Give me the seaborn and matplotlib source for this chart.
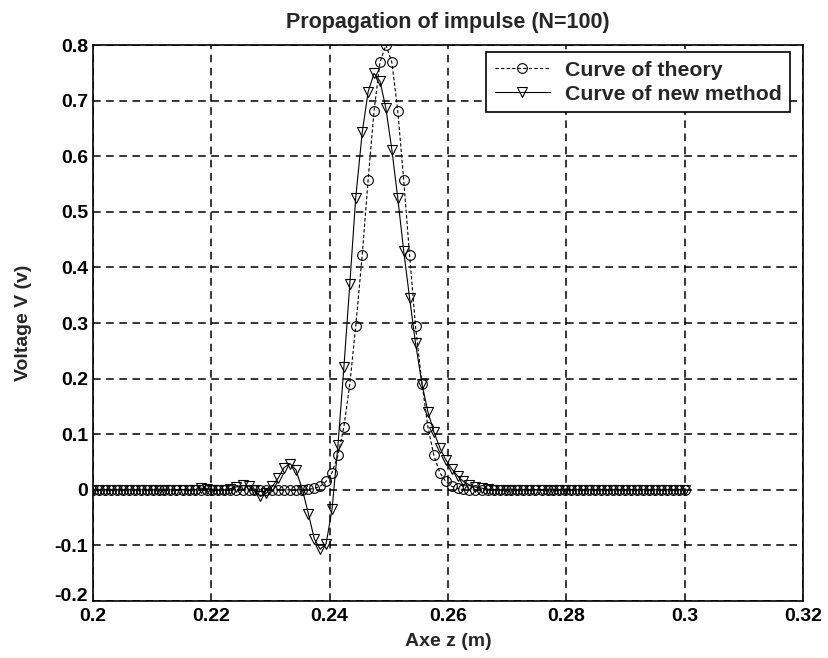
import matplotlib
matplotlib.use("Agg")
import matplotlib.pyplot as plt
import matplotlib.transforms as mtransforms
import seaborn as sns
import pandas as pd

# ---- data ----
z_axis = [0.2000, 0.2010, 0.2020, 0.2030, 0.2040, 0.2051, 0.2061, 0.2071, 0.2081, 0.2091,
          0.2101, 0.2111, 0.2121, 0.2131, 0.2141, 0.2152, 0.2162, 0.2172, 0.2182, 0.2192,
          0.2202, 0.2212, 0.2222, 0.2232, 0.2242, 0.2253, 0.2263, 0.2273, 0.2283, 0.2293,
          0.2303, 0.2313, 0.2323, 0.2333, 0.2343, 0.2354, 0.2364, 0.2374, 0.2384, 0.2394,
          0.2404, 0.2414, 0.2424, 0.2434, 0.2444, 0.2455, 0.2465, 0.2475, 0.2485, 0.2495,
          0.2505, 0.2515, 0.2525, 0.2535, 0.2545, 0.2556, 0.2566, 0.2576, 0.2586, 0.2596,
          0.2606, 0.2616, 0.2626, 0.2636, 0.2646, 0.2657, 0.2667, 0.2677, 0.2687, 0.2697,
          0.2707, 0.2717, 0.2727, 0.2737, 0.2747, 0.2758, 0.2768, 0.2778, 0.2788, 0.2798,
          0.2808, 0.2818, 0.2828, 0.2838, 0.2848, 0.2859, 0.2869, 0.2879, 0.2889, 0.2899,
          0.2909, 0.2919, 0.2929, 0.2939, 0.2949, 0.2960, 0.2970, 0.2980, 0.2990, 0.3000]

v_theory = [0.0, 0.0, 0.0, 0.0, 0.0, 0.0, 0.0, 0.0, 0.0, 0.0,
            0.0, 0.0, 0.0, 0.0, 0.0, 0.0, 0.0, 0.0, 0.0, 0.0,
            0.0, 0.0, 0.0, 0.0, 0.0, 0.0, 0.0, 0.0, 0.0, 0.0,
            0.0, 0.0, 0.0, 0.0, 0.0, 0.0003, 0.0009, 0.0025, 0.0064, 0.015,
            0.031, 0.062, 0.113, 0.190, 0.294, 0.422, 0.558, 0.682, 0.769, 0.800,
            0.769, 0.682, 0.558, 0.422, 0.294, 0.190, 0.113, 0.062, 0.031, 0.015,
            0.0064, 0.0025, 0.0009, 0.0003, 0.0, 0.0, 0.0, 0.0, 0.0, 0.0,
            0.0, 0.0, 0.0, 0.0, 0.0, 0.0, 0.0, 0.0, 0.0, 0.0,
            0.0, 0.0, 0.0, 0.0, 0.0, 0.0, 0.0, 0.0, 0.0, 0.0,
            0.0, 0.0, 0.0, 0.0, 0.0, 0.0, 0.0, 0.0, 0.0, 0.0]

v_new = [0.0, 0.0, 0.0, 0.0, 0.0, 0.0, 0.0, 0.0, 0.0, 0.0,
         0.0, 0.0, 0.0, 0.0, 0.0, 0.0, 0.0, 0.0, 0.003, 0.002,
         0.0, 0.0, 0.0, 0.002, 0.005, 0.008, 0.007, 0.0, -0.012, -0.006,
         0.006, 0.021, 0.040, 0.047, 0.036, 0.0, -0.043, -0.088, -0.107, -0.097,
         -0.035, 0.080, 0.220, 0.370, 0.525, 0.643, 0.716, 0.749, 0.735, 0.686,
         0.612, 0.525, 0.430, 0.345, 0.264, 0.190, 0.140, 0.104, 0.076, 0.054,
         0.038, 0.025, 0.015, 0.009, 0.005, 0.003, 0.001, 0.0, 0.0, 0.0,
         0.0, 0.0, 0.0, 0.0, 0.0, 0.0, 0.0, 0.0, 0.0, 0.0,
         0.0, 0.0, 0.0, 0.0, 0.0, 0.0, 0.0, 0.0, 0.0, 0.0,
         0.0, 0.0, 0.0, 0.0, 0.0, 0.0, 0.0, 0.0, 0.0, 0.0]

x_ticks = [0.2, 0.22, 0.24, 0.26, 0.28, 0.3, 0.32]
x_tick_labels = ["0.2", "0.22", "0.24", "0.26", "0.28", "0.3", "0.32"]
y_ticks = [-0.2, -0.1, 0.0, 0.1, 0.2, 0.3, 0.4, 0.5, 0.6, 0.7, 0.8]
y_tick_labels = ["-0.2", "-0.1", "0", "0.1", "0.2", "0.3", "0.4", "0.5", "0.6", "0.7", "0.8"]

title_text = "Propagation of impulse (N=100)"
x_label = "Axe z (m)"
y_label = "Voltage V (v)"
label_theory = "Curve of theory"
label_new = "Curve of new method"

df = pd.DataFrame({"z": z_axis, "theory": v_theory, "new": v_new})

sns.set_style("white")
plt.rcParams["font.family"] = ["Liberation Sans", "DejaVu Sans"]
plt.rcParams["font.weight"] = "bold"

fig = plt.figure(figsize=(8.29, 6.58), dpi=100)
ax = fig.add_axes([0.112, 0.0866, 0.857, 0.845])

sns.lineplot(data=df, x="z", y="theory", ax=ax, color="black", linestyle=(0, (3, 2)),
             linewidth=0.8, marker="o", markersize=7, markerfacecolor="none",
             markeredgecolor="black", markeredgewidth=0.8, label=label_theory,
             legend=False)
sns.lineplot(data=df, x="z", y="new", ax=ax, color="black", linestyle="-",
             linewidth=0.8, marker="v", markersize=6.5, markerfacecolor="none",
             markeredgecolor="black", markeredgewidth=0.8, label=label_new,
             legend=False)

ax.set_xlim(0.2, 0.32)
ax.set_ylim(-0.2, 0.8)
ax.set_xticks(x_ticks)
ax.set_xticklabels(x_tick_labels)
ax.set_yticks(y_ticks)
ax.set_yticklabels(y_tick_labels)
ax.tick_params(axis="both", direction="in", length=4, width=1, labelsize=14,
               colors="black")
ax.tick_params(axis="x", pad=5)
for lab in ax.get_xticklabels() + ax.get_yticklabels():
    lab.set_fontweight("bold")
# the lowest y label sits a little raised, as in the reference
low = ax.get_yticklabels()[0]
low.set_transform(low.get_transform() +
                  mtransforms.ScaledTranslation(0, 5 / 72, fig.dpi_scale_trans))

ax.grid(True, color="black", linestyle=(0, (5, 3.6)), linewidth=1.1)
for sp in ax.spines.values():
    sp.set_color("black")
    sp.set_linewidth(1.2)
    sp.set_visible(True)

ax.set_title(title_text, fontsize=15.5, fontweight="bold", pad=12)
ax.set_xlabel(x_label, fontsize=14, fontweight="bold", labelpad=6)
ax.set_ylabel(y_label, fontsize=14, fontweight="bold", labelpad=16)

leg = ax.legend(loc="upper right", bbox_to_anchor=(0.9817, 0.9874), borderaxespad=0,
                fancybox=False, framealpha=1, edgecolor="black", fontsize=15.3,
                handlelength=2.6, handletextpad=0.7, borderpad=0.4, labelspacing=0.25)
leg.get_frame().set_linewidth(1.2)
for t in leg.get_texts():
    t.set_fontweight("bold")

fig.savefig("out.png", dpi=100, facecolor="white")
